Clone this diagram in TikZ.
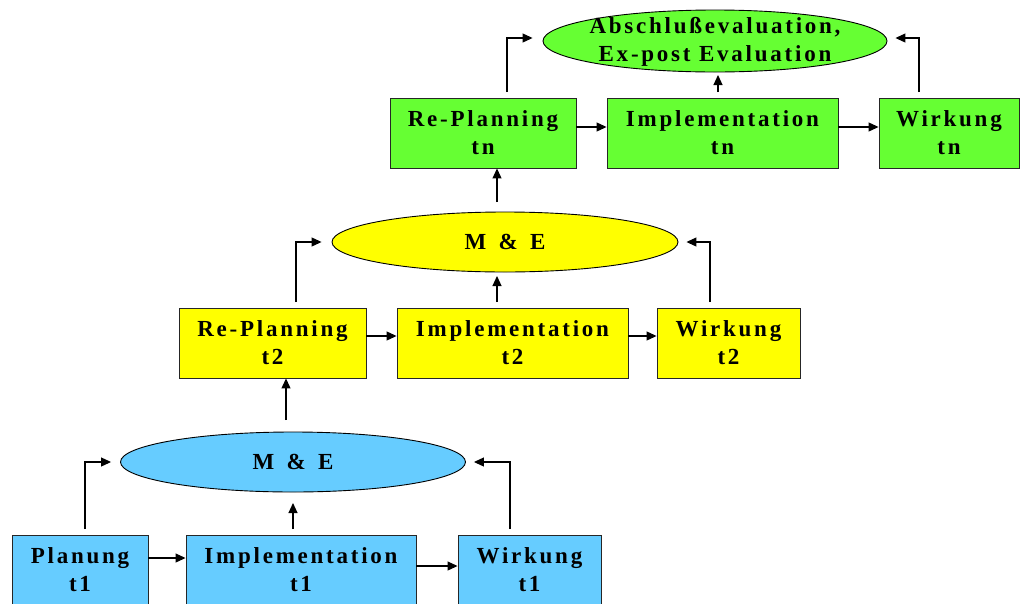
\documentclass[tikz,border=0pt]{standalone}
\usepackage{fontspec}
\setmainfont{Liberation Serif}[LetterSpace=12]
\usetikzlibrary{arrows.meta,shapes.geometric}
\definecolor{cblue}{RGB}{102,204,255}
\definecolor{cyellow}{RGB}{255,255,0}
\definecolor{cgreen}{RGB}{102,255,51}
\begin{document}
\begin{tikzpicture}[x=1pt,y=-1pt,
  lbl/.style={font=\fontsize{23}{28}\selectfont\bfseries, align=center, text=black},
  boxnode/.style={lbl, draw=black!85, line width=0.9pt, rectangle, inner sep=0pt, minimum height=70pt},
  ellnode/.style={lbl, draw=black, line width=0.9pt, ellipse, inner sep=0pt},
  arr/.style={line width=1.1pt, -{Triangle[length=10pt,width=9pt]}}]
\useasboundingbox (0,0) rectangle (1021,603);

% ---- stage t1 (blue) ----
\node[boxnode, fill=cblue, minimum width=136pt] (p1) at (80,570) {Planung\\t1};
\node[boxnode, fill=cblue, minimum width=230pt] (i1) at (301,570) {Implementation\\t1};
\node[boxnode, fill=cblue, minimum width=143pt] (w1) at (529.5,570) {Wirkung\\t1};
\node[ellnode, fill=cblue, minimum width=345pt, minimum height=60pt] (e1) at (293,462) {M \,\&\, E};

% ---- stage t2 (yellow) ----
\node[boxnode, fill=cyellow, minimum width=187pt] (p2) at (272.5,343) {Re-Planning\\t2};
\node[boxnode, fill=cyellow, minimum width=231pt] (i2) at (512.5,343) {Implementation\\t2};
\node[boxnode, fill=cyellow, minimum width=143pt] (w2) at (728.5,343) {Wirkung\\t2};
\node[ellnode, fill=cyellow, minimum width=346pt, minimum height=60pt] (e2) at (505,242) {M \,\&\, E};

% ---- stage tn (green) ----
\node[boxnode, fill=cgreen, minimum width=186pt] (p3) at (483,133) {Re-Planning\\tn};
\node[boxnode, fill=cgreen, minimum width=231pt] (i3) at (722.5,133) {Implementation\\tn};
\node[boxnode, fill=cgreen, minimum width=140pt] (w3) at (949,133) {Wirkung\\tn};
\node[draw=black, line width=0.9pt, ellipse, fill=cgreen, minimum width=344pt, minimum height=62pt, inner sep=0pt] (e3) at (715,41) {};
\node[lbl] (e3t) at (715,42) {Abschlußevaluation,\\Ex-post Evaluation};

% ---- horizontal flow ----
\draw[arr] ([yshift=12pt]p1.east) -- ([yshift=12pt]i1.west);
\draw[arr] ([yshift=4pt]i1.east) -- ([yshift=4pt]w1.west);
\draw[arr] ([yshift=7pt]p2.east) -- ([yshift=7pt]i2.west);
\draw[arr] ([yshift=7pt]i2.east) -- ([yshift=7pt]w2.west);
\draw[arr] ([yshift=6pt]p3.east) -- ([yshift=6pt]i3.west);
\draw[arr] ([yshift=6pt]i3.east) -- ([yshift=6pt]w3.west);

% ---- feedback into M&E, stage t1 ----
\coordinate (a1) at (85,529);
\coordinate (c1) at (293,529);
\coordinate (d1) at (510,529);
\draw[arr] (a1) |- ([xshift=-9pt]e1.west);
\draw[arr] (c1) -- +(0,-26);
\draw[arr] (d1) |- ([xshift=8pt]e1.east);

% ---- feedback into M&E, stage t2 ----
\coordinate (a2) at (296,302);
\coordinate (c2) at (497,302);
\coordinate (d2) at (710,302);
\draw[arr] (a2) |- ([xshift=-10pt]e2.west);
\draw[arr] (c2) -- +(0,-26);
\draw[arr] (d2) |- ([xshift=8pt]e2.east);

% ---- feedback into final evaluation ----
\coordinate (a3) at (507,92);
\coordinate (c3) at (718,92);
\coordinate (d3) at (919,92);
\draw[arr] (a3) |- ([xshift=-10pt,yshift=3pt]e3.west);
\draw[arr] (c3) -- +(0,-17);
\draw[arr] (d3) |- ([xshift=8pt,yshift=3pt]e3.east);

% ---- between stages ----
\coordinate (b1) at (286,420);
\draw[arr] (b1) -- (b1 |- p2.south);
\coordinate (b2) at (497,202);
\draw[arr] (b2) -- (b2 |- p3.south);
\end{tikzpicture}
\end{document}
